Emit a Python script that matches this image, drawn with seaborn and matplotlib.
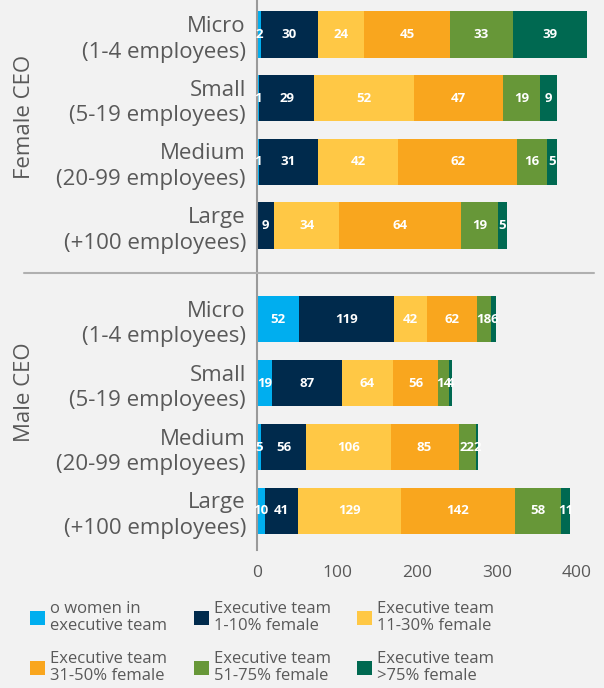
import numpy as np
import seaborn as sns
import matplotlib.pyplot as plt
from matplotlib.patches import Patch
from matplotlib.lines import Line2D

# company size rows (same for both CEO groups)
sizes = ["Micro\n(1-4 employees)", "Small\n(5-19 employees)",
         "Medium\n(20-99 employees)", "Large\n(+100 employees)"]

# share of women in executive team
groups = ["o women in\nexecutive team", "Executive team\n1-10% female",
          "Executive team\n11-30% female", "Executive team\n31-50% female",
          "Executive team\n51-75% female", "Executive team\n>75% female"]
colors = ["#00AEEF", "#002A4C", "#FFC845", "#F9A61E", "#679738", "#006951"]

# female CEO, counts per size row
female_0 = [2, 1, 1, 0]
female_1_10 = [30, 29, 31, 9]
female_11_30 = [24, 52, 42, 34]
female_31_50 = [45, 47, 62, 64]
female_51_75 = [33, 19, 16, 19]
female_75 = [39, 9, 5, 5]

# male CEO, counts per size row
male_0 = [52, 19, 5, 10]
male_1_10 = [119, 87, 56, 41]
male_11_30 = [42, 64, 106, 129]
male_31_50 = [62, 56, 85, 142]
male_51_75 = [18, 14, 22, 58]
male_75 = [6, 4, 2, 11]

xticks = [0, 100, 200, 300, 400]

bg = "#F2F2F2"
grey = "#595959"
sns.set_style("white", {"axes.facecolor": bg, "figure.facecolor": bg})
plt.rcParams["font.family"] = ["Open Sans", "DejaVu Sans"]

W, H = 604, 688
fig = plt.figure(figsize=(W / 100, H / 100), dpi=100)
fig.patch.set_facecolor(bg)


def px(x0, y0, x1, y1):
    return [x0 / W, 1 - y1 / H, (x1 - x0) / W, (y1 - y0) / H]


ax_f = fig.add_axes(px(257, 0, 597, 273))
ax_m = fig.add_axes(px(257, 273, 597, 550))


def stacked(ax, rows):
    left = np.zeros(len(sizes))
    for vals, col in zip(rows, colors):
        sns.barplot(x=vals, y=sizes, orient="h", color=col, width=0.73,
                    left=left, saturation=1, errorbar=None, linewidth=0, ax=ax)
        labels = [str(v) if v > 0 else "" for v in vals]
        ax.bar_label(ax.containers[-1], labels=labels, label_type="center",
                     color="white", fontsize=9.5, fontweight="bold")
        left = left + np.array(vals)
    for s in ["top", "right", "bottom"]:
        ax.spines[s].set_visible(False)
    ax.spines["left"].set_color("#9a9a9a")
    ax.spines["left"].set_linewidth(1.5)
    ax.tick_params(axis="y", length=0, pad=8, labelsize=16, labelcolor=grey)
    for t in ax.get_yticklabels():
        t.set_linespacing(1.3)
    ax.set_ylabel("")
    ax.set_xlabel("")


stacked(ax_f, [female_0, female_1_10, female_11_30, female_31_50, female_51_75, female_75])
stacked(ax_m, [male_0, male_1_10, male_11_30, male_31_50, male_51_75, male_75])

ax_f.set_xlim(0, 178)
ax_f.set_ylim(3.745, -0.542)
ax_f.set_xticks([])

ax_m.set_xlim(0, 425)
ax_m.set_ylim(3.61, -0.72)
ax_m.set_xticks(xticks)
ax_m.tick_params(axis="x", length=0, pad=11, labelsize=12.5, labelcolor=grey)

fig.text(25 / W, 1 - 117 / H, "Female CEO", rotation=90, ha="center", va="center",
         fontsize=16, color=grey)
fig.text(25 / W, 1 - 392 / H, "Male CEO", rotation=90, ha="center", va="center",
         fontsize=16, color=grey)
fig.add_artist(Line2D([24 / W, 594 / W], [1 - 273 / H, 1 - 273 / H],
                      color="#b0b0b0", lw=1.5, transform=fig.transFigure))

handles = [Patch(facecolor=c, edgecolor="none") for c in colors]
order = [0, 3, 1, 4, 2, 5]
leg = fig.legend([handles[i] for i in order], [groups[i] for i in order], ncol=3,
                 loc="upper left", bbox_to_anchor=(15 / W, 1 - 586 / H), frameon=False,
                 fontsize=12, labelcolor=grey, handlelength=0.9, handleheight=0.95,
                 handletextpad=0.3, columnspacing=1.6, labelspacing=1.0)
for t in leg.get_texts():
    t.set_linespacing(1.1)

fig.savefig("out.png", dpi=100, facecolor=bg)
